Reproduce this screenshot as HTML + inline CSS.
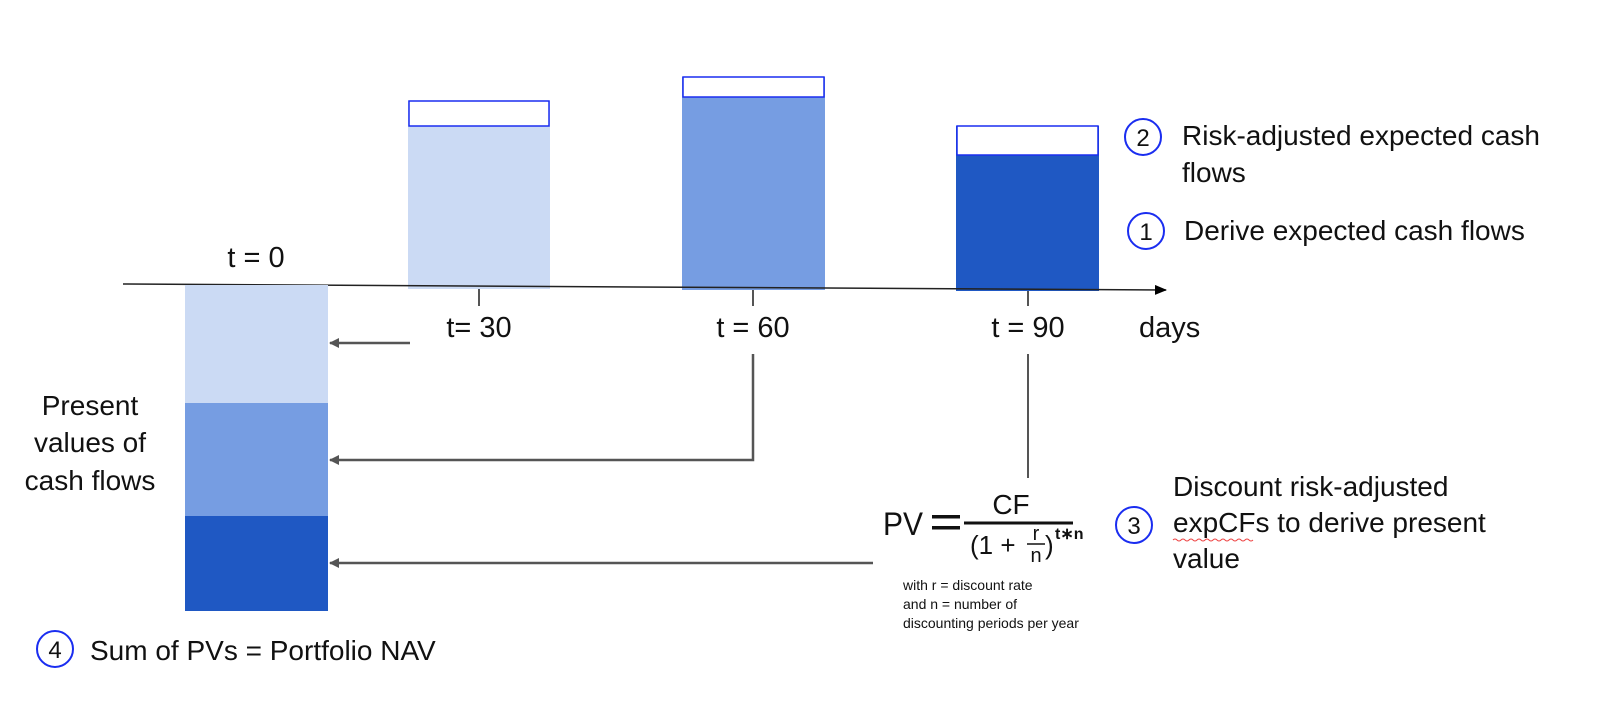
<!DOCTYPE html>
<html><head><meta charset="utf-8"><style>
html,body{margin:0;padding:0;background:#fff;}
svg{display:block;}
text{font-family:"Liberation Sans",sans-serif;fill:#111;}
</style></head><body>
<svg width="1600" height="711" viewBox="0 0 1600 711" xmlns="http://www.w3.org/2000/svg">
<defs>
<marker id="ah" markerWidth="10" markerHeight="10" refX="9" refY="5" orient="auto" markerUnits="userSpaceOnUse">
<path d="M0,0 L10,5 L0,10 Z" fill="#555"/></marker>
<marker id="ak" markerWidth="12" markerHeight="10" refX="11" refY="5" orient="auto" markerUnits="userSpaceOnUse">
<path d="M0,0 L12,5 L0,10 Z" fill="#000"/></marker>
</defs>
<rect x="408" y="101" width="142" height="188" fill="#cbdaf4"/>
<rect x="409" y="101" width="140" height="25" fill="#fff" stroke="#1a2df0" stroke-width="1.5"/>
<rect x="682" y="77" width="143" height="213" fill="#769de2"/>
<rect x="683" y="77" width="141" height="20" fill="#fff" stroke="#1a2df0" stroke-width="1.5"/>
<rect x="956" y="126" width="143" height="165" fill="#1f58c3"/>
<rect x="957" y="126" width="141" height="29" fill="#fff" stroke="#1a2df0" stroke-width="1.5"/>
<line x1="123" y1="284" x2="1166" y2="290" stroke="#222" stroke-width="1.5" marker-end="url(#ak)"/>
<line x1="479" y1="289" x2="479" y2="306" stroke="#555" stroke-width="2"/>
<line x1="753" y1="290" x2="753" y2="306" stroke="#555" stroke-width="2"/>
<line x1="1028" y1="291" x2="1028" y2="306" stroke="#555" stroke-width="2"/>
<rect x="185" y="285" width="143" height="118" fill="#cbdaf4"/>
<rect x="185" y="403" width="143" height="113" fill="#769de2"/>
<rect x="185" y="516" width="143" height="95" fill="#1f58c3"/>
<line x1="410" y1="343" x2="330" y2="343" stroke="#555" stroke-width="2.5" marker-end="url(#ah)"/>
<polyline points="753,354 753,460 330,460" fill="none" stroke="#555" stroke-width="2.5" marker-end="url(#ah)"/>
<line x1="1028" y1="354" x2="1028" y2="478" stroke="#555" stroke-width="2"/>
<line x1="873" y1="563" x2="330" y2="563" stroke="#555" stroke-width="2.5" marker-end="url(#ah)"/>
<text x="256" y="267" font-size="29" text-anchor="middle">t = 0</text>
<text x="479" y="337" font-size="29" text-anchor="middle">t= 30</text>
<text x="753" y="337" font-size="29" text-anchor="middle">t = 60</text>
<text x="1028" y="337" font-size="29" text-anchor="middle">t = 90</text>
<text x="1139" y="337" font-size="29">days</text>
<text font-size="28" text-anchor="middle"><tspan x="90" y="415">Present</tspan><tspan x="90" y="452">values of</tspan><tspan x="90" y="490">cash flows</tspan></text>
<g fill="none" stroke="#1a2df0" stroke-width="2">
<circle cx="1143" cy="137" r="18"/><circle cx="1146" cy="231" r="18"/>
<circle cx="1134" cy="525" r="18"/><circle cx="55" cy="649" r="18"/>
</g>
<g font-size="24" text-anchor="middle">
<text x="1143" y="146">2</text><text x="1146" y="240">1</text>
<text x="1134" y="534">3</text><text x="55" y="658">4</text>
</g>
<text x="1182" y="145" font-size="28">Risk-adjusted expected cash</text>
<text x="1182" y="182" font-size="28">flows</text>
<text x="1184" y="240" font-size="28">Derive expected cash flows</text>
<text font-size="28"><tspan x="1173" y="496">Discount risk-adjusted</tspan><tspan x="1173" y="532">expCFs to derive present</tspan><tspan x="1173" y="568">value</tspan></text>
<path d="M1173,540 q2,-2 4,0 t4,0 t4,0 t4,0 t4,0 t4,0 t4,0 t4,0 t4,0 t4,0 t4,0 t4,0 t4,0 t4,0 t4,0 t4,0 t4,0 t4,0 t4,0 t4,0" fill="none" stroke="#e44" stroke-width="1"/>
<text x="90" y="660" font-size="28">Sum of PVs = Portfolio NAV</text>
<text x="883" y="535" font-size="32" textLength="40" lengthAdjust="spacingAndGlyphs">PV</text>
<rect x="932" y="515" width="28" height="3.5" fill="#111"/>
<rect x="932" y="526" width="28" height="3.5" fill="#111"/>
<text x="1011" y="514" font-size="28" text-anchor="middle">CF</text>
<line x1="964" y1="523" x2="1073" y2="523" stroke="#111" stroke-width="3"/>
<text x="970" y="554" font-size="26">(1 +</text>
<text x="1036" y="540" font-size="20" text-anchor="middle">r</text>
<line x1="1027" y1="544" x2="1045" y2="544" stroke="#111" stroke-width="1.5"/>
<text x="1036" y="562" font-size="20" text-anchor="middle">n</text>
<text x="1045" y="554" font-size="26">)</text>
<text x="1055" y="539" font-size="16" font-weight="bold">t∗n</text>
<text font-size="14"><tspan x="903" y="590">with r = discount rate</tspan><tspan x="903" y="609">and n = number of</tspan><tspan x="903" y="628">discounting periods per year</tspan></text>
</svg>
</body></html>
